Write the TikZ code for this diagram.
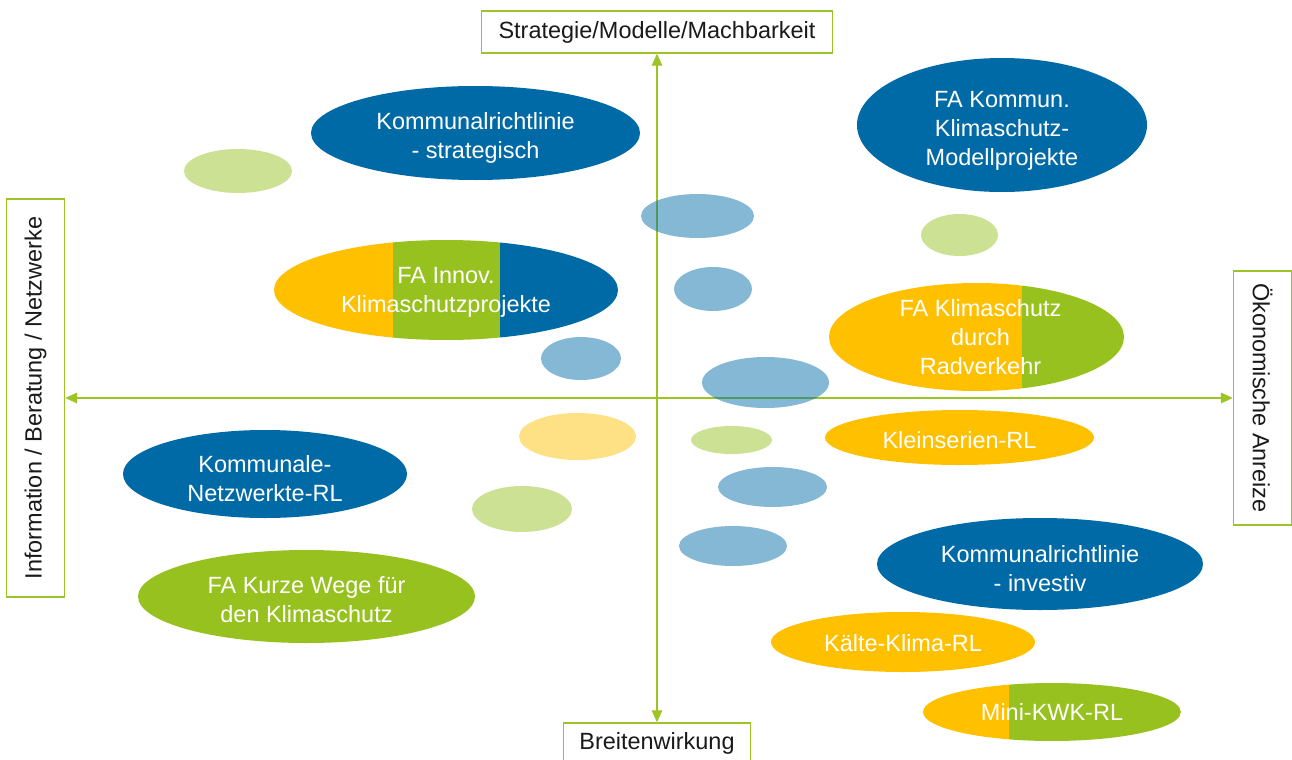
\documentclass[tikz,border=0pt]{standalone}
\usepackage{fontspec}
\setmainfont{Liberation Sans}
\usetikzlibrary{shapes.geometric,arrows.meta}
\definecolor{cB}{HTML}{006AA6}
\definecolor{cG}{HTML}{97C11F}
\definecolor{cO}{HTML}{FFC000}
\definecolor{cAx}{HTML}{9BC424}
\definecolor{cTxt}{HTML}{1A1A1A}
\begin{document}
\begin{tikzpicture}[x=0.75pt,y=-0.75pt,
  font=\fontsize{17.6}{21.6}\selectfont,
  ell/.style n args={2}{ellipse, inner sep=0pt, minimum width=#1*1.5pt, minimum height=#2*1.5pt},
  pale/.style n args={2}{ellipse, inner sep=0pt, minimum width=#1*1.5pt, minimum height=#2*1.5pt, fill opacity=0.48, draw=none},
  lbl/.style={text=white, align=center, inner sep=0pt},
  axbox/.style={draw=cAx, line width=1.1pt, fill=white, inner sep=0pt, text=cTxt},
  axis/.style={draw=cAx, line width=1pt, {Triangle[length=9pt,width=8pt]}-{Triangle[length=9pt,width=8pt]}}
]
\clip (0,0) rectangle (1292,760);
% axis boxes
\node[axbox, minimum width=263.25pt, minimum height=31.5pt] (top) at (657,32) {Strategie/Modelle/Machbarkeit};
\node[axbox, minimum width=140.25pt, minimum height=30pt] (bot) at (657,743) {Breitenwirkung};
\node[axbox, rotate=90, minimum width=298.5pt, minimum height=43.5pt] (left) at (35.5,398) {Information / Beratung / Netzwerke};
\node[axbox, rotate=-90, minimum width=190.5pt, minimum height=43.5pt] (right) at (1262.5,398) {Ökonomische Anreize};
% axes
\draw[axis] (top.south) -- (bot.north);
\draw[axis] (left.south) -- (right.south);
% pale ellipses
\node[pale={54}{22}, fill=cG] (p1) at (238,171) {};
\node[pale={56.5}{22}, fill=cB] (p2) at (697.5,216) {};
\node[pale={38.5}{21}, fill=cG] (p3) at (959.5,235) {};
\node[pale={39}{22}, fill=cB] (p4) at (713,289) {};
\node[pale={40}{21.5}, fill=cB] (p5) at (581,358.5) {};
\node[pale={63.5}{25.5}, fill=cB] (p6) at (765.5,382.5) {};
\node[pale={58.5}{23.5}, fill=cO] (p7) at (577.5,436.5) {};
\node[pale={40.5}{14}, fill=cG] (p8) at (731.5,440) {};
\node[pale={54.5}{20}, fill=cB] (p9) at (772.5,487) {};
\node[pale={50}{23}, fill=cG] (p10) at (522,509) {};
\node[pale={54}{20}, fill=cB] (p11) at (733,546) {};
% labelled ellipses
\node[ell={164.5}{47}, fill=cB] (kstr) at (475.5,133) {};
\node[lbl] (kstrT) at ([yshift=-3.75pt]kstr.center) {Kommunalrichtlinie\\- strategisch};
\node[ell={145}{67}, fill=cB] (kmod) at (1002,125) {};
\node[lbl] (kmodT) at ([yshift=-4.5pt]kmod.center) {FA Kommun.\\Klimaschutz-\\Modellprojekte};
\node[ell={172}{50}, path picture={
    \fill[cO] (path picture bounding box.south west) rectangle ([xshift=-39.75pt]path picture bounding box.north);
    \fill[cG] ([xshift=-39.75pt]path picture bounding box.south) rectangle ([xshift=40.5pt]path picture bounding box.north);
    \fill[cB] ([xshift=40.5pt]path picture bounding box.south) rectangle (path picture bounding box.north east);}]
  (innov) at (446,290) {};
\node[lbl] (innovT) at ([yshift=-1.5pt]innov.center) {FA Innov.\\Klimaschutzprojekte};
\node[ell={147.5}{54}, path picture={
    \fill[cO] (path picture bounding box.south west) rectangle ([xshift=34.1pt]path picture bounding box.north);
    \fill[cG] ([xshift=34.1pt]path picture bounding box.south) rectangle (path picture bounding box.north east);}]
  (rad) at (976.5,337) {};
\node[lbl] (radT) at ([xshift=3pt]rad.center) {FA Klimaschutz\\durch\\Radverkehr};
\node[ell={134.5}{27.5}, fill=cO] (klein) at (959.5,437.5) {};
\node[lbl] (kleinT) at ([yshift=-2.25pt]klein.center) {Kleinserien-RL};
\node[ell={142}{44}, fill=cB] (knetz) at (265,474) {};
\node[lbl] (knetzT) at ([yshift=-3.75pt]knetz.center) {Kommunale-\\Netzwerkte-RL};
\node[ell={163}{46}, fill=cB] (kinv) at (1040,564) {};
\node[lbl] (kinvT) at ([yshift=-3.75pt]kinv.center) {Kommunalrichtlinie\\- investiv};
\node[ell={168.5}{46.5}, fill=cG] (kurz) at (306.5,596.5) {};
\node[lbl] (kurzT) at ([yshift=-2.25pt]kurz.center) {FA Kurze Wege für\\den Klimaschutz};
\node[ell={132}{30}, fill=cO] (kaelte) at (903,642) {};
\node[lbl] (kaelteT) at ([yshift=-0.75pt]kaelte.center) {Kälte-Klima-RL};
\node[ell={129}{29}, path picture={
    \fill[cO] (path picture bounding box.south west) rectangle ([xshift=-32.25pt]path picture bounding box.north);
    \fill[cG] ([xshift=-32.25pt]path picture bounding box.south) rectangle (path picture bounding box.north east);}]
  (mini) at (1052,712) {};
\node[lbl] (miniT) at (mini.center) {Mini-KWK-RL};
\end{tikzpicture}
\end{document}
